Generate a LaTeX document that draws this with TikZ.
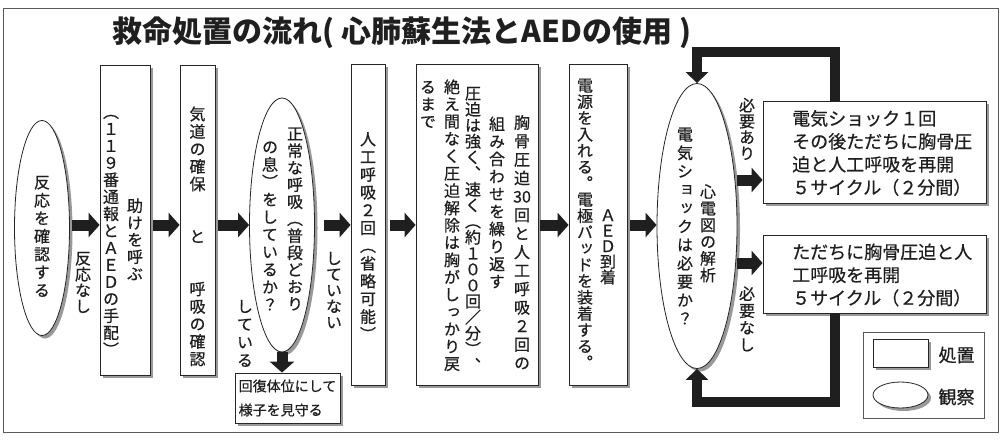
\documentclass[tikz,border=0pt]{standalone}
\usepackage{fontspec}
\setmainfont{Noto Sans CJK JP}[FakeBold=0.6]
\newfontfamily\tatefont[RawFeature=+vert, FakeBold=0.6]{Noto Sans CJK JP}
\newfontfamily\titlefont{Noto Sans CJK JP}
\usepackage{tikz}
\usetikzlibrary{arrows.meta}
\usetikzlibrary{shapes.geometric}
\usetikzlibrary{shadows}

% 縦書き（1文字ずつ積む）
\makeatletter
\newcommand\tate[2][17.5pt]{%
  \vbox{\offinterlineskip\tatefont
    \@tfor\tate@c:=#2\do{%
      \vbox to #1{\vss\hbox to 1em{\hss\vrule height .88em depth .12em width 0pt\tate@c\hss}\vss}}}}
\makeatother

\tikzset{%
  myarrow/.style={line width=11pt, draw=black!88, -{Triangle[width=24pt,length=11pt]}},
  myloop/.style={line width=10pt, draw=black!88, -{Triangle[width=22pt,length=11pt]}},
  myshadow/.style={drop shadow={shadow xshift=3pt, shadow yshift=-3pt, fill=black!40, opacity=1}},
  mybox/.style={rectangle, draw=black!85, fill=white, line width=0.8pt, inner sep=0pt, myshadow},
  myobs/.style={ellipse, draw=black!85, fill=white, line width=0.8pt, inner sep=0pt, myshadow},
  mytate/.style={inner sep=0pt, anchor=north, font=\fontsize{16}{16}\selectfont, text=black!88},
  mytext/.style={inner sep=0pt, align=left, font=\fontsize{18}{23}\selectfont, text=black!88}
}

\begin{document}
\begin{tikzpicture}[x=1pt, y=-1pt]
\useasboundingbox (0,0) rectangle (1001,439);
\fill [white] (0,0) rectangle (1001,439);
\draw [black!65, line width=1pt] (3,8) rectangle (998,432);

\node (title) [text=black!88, font=\titlefont\bfseries\fontsize{30}{30}\selectfont] at (402,33)
  {救命処置の流れ( 心肺蘇生法とAEDの使用 )};

\coordinate (row) at (0,225);

% 観察と処置
\node (check)  [myobs, minimum width=55pt, minimum height=215pt] at (42,228) {};
\node (call)   [mybox, minimum width=50pt, minimum height=310pt] at (125,220) {};
\node (airway) [mybox, minimum width=35pt, minimum height=310pt] at (197.5,220) {};
\node (breath) [myobs, minimum width=65pt, minimum height=254pt] at (282,225) {};
\node (recover)[mybox, minimum width=105pt, minimum height=50pt, align=left,
                font=\fontsize{14}{24}\selectfont, text=black!88] at (287.5,398)
  {回復体位にして\\様子を見守る};
\node (rescue) [mybox, minimum width=34pt, minimum height=321pt] at (368,224.5) {};
\node (cpr)    [mybox, minimum width=122pt, minimum height=321pt] at (477,224.5) {};
\node (aed)    [mybox, minimum width=58pt, minimum height=321pt] at (598,224.5) {};
\node (ecg)    [myobs, minimum width=80pt, minimum height=285pt] at (697,226) {};
\node (shock)  [mybox, minimum width=223pt, minimum height=102pt] at (874.5,152) {};
\node (noshock)[mybox, minimum width=223pt, minimum height=78pt] at (874.5,274) {};

% 縦書きの文字
\node (tcheck) [mytate] at (42,173) {\tate[18pt]{反応を確認する}};
\node (tcallA) [mytate] at (135,197) {\tate[17pt]{助けを呼ぶ}};
\node (tcallB) [mytate] at (111,103) {\tate[17pt]{（１１９番通報とＡＥＤの手配）}};
\node (tair)   [mytate] at (197.5,105) {\tate{気道の確保　　と　　呼吸の確認}};
\node (tbreA)  [mytate] at (295,125) {\tate[17pt]{正常な呼吸（普段どおり}};
\node (tbreB)  [mytate] at (270,138) {\tate{の息）をしているか？}};
\node (tresc)  [mytate] at (368,130) {\tate[17.75pt]{人工呼吸２回（省略可能）}};
\node (tcprA)  [mytate] at (522,113) {\tate[18.5pt]{胸骨圧迫{30}回と人工呼吸２回の}};
\node (tcprB)  [mytate] at (497,115) {\tate{組み合わせを繰り返す}};
\node (tcprC)  [mytate] at (473,85) {\tate[16pt]{圧迫は強く、速く（約１００回／分）、}};
\node (tcprD)  [mytate] at (452,78) {\tate[17.3pt]{絶え間なく圧迫解除は胸がしっかり戻}};
\node (tcprE)  [mytate] at (428,78) {\tate[17.3pt]{るまで}};
\node (taedA)  [mytate] at (608,207) {\tate[15.5pt]{ＡＥＤ到着}};
\node (taedB)  [mytate] at (585,77) {\tate[16.3pt]{電源を入れる。電極パッドを装着する。}};
\node (tecgA)  [mytate] at (708,183) {\tate[16.7pt]{心電図の解析}};
\node (tecgB)  [mytate] at (685,125) {\tate[18.4pt]{電気ショックは必要か？}};

\node (tshock) [mytext, anchor=west] at (792,153)
  {電気ショック１回\\その後ただちに胸骨圧\\迫と人工呼吸を再開\\５サイクル（２分間）};
\node (tnoshock) [mytext, anchor=west] at (792,275)
  {ただちに胸骨圧迫と人\\工呼吸を再開\\５サイクル（２分間）};

% 矢印
\foreach \a/\b/\s in {check/call/2, call/airway/3, airway/breath/3, breath/rescue/9,
                      rescue/cpr/5, cpr/aed/2, aed/ecg/3} {
  \draw [myarrow, shorten <=\s pt] (\a.east |- row) -- (\b.west |- row);
}
\draw [myarrow] (breath.south) -- (breath.south |- recover.north);

\coordinate (yes) at (0,180);
\coordinate (no)  at (0,263);
\draw [myarrow] (ecg.east |- yes) -- (shock.west |- yes);
\draw [myarrow] (ecg.east |- no) -- (noshock.west |- no);

\node (lnone)  [mytate] at (83,250) {\tate[16pt]{反応なし}};
\node (lyes)   [mytate] at (245,297) {\tate[18pt]{している}};
\node (lnot)   [mytate] at (334,250) {\tate[16pt]{していない}};
\node (lneed)  [mytate] at (747,97) {\tate[16pt]{必要あり}};
\node (lnoneed)[mytate] at (747,285) {\tate[17pt]{必要なし}};

% ループ
\coordinate (loopT) at (835,52);
\coordinate (loopB) at (835,402);
\draw [myloop] (shock.north -| loopT) -- (loopT) -| (ecg.north);
\draw [myloop] (noshock.south -| loopB) -- (loopB) -| (ecg.south);

% 凡例
\node (legend) [rectangle, draw=black!65, line width=0.8pt, minimum width=121pt, minimum height=86pt]
  at (923.5,375) {};
\node (legbox) [mybox, minimum width=55pt, minimum height=28pt] at (900.5,353) {};
\node (legell) [myobs, minimum width=55pt, minimum height=26pt] at (900.5,395) {};
\node (ltreat) [text=black!88, font=\fontsize{18}{18}\selectfont, anchor=west] at (935,355) {処置};
\node (lobs)   [text=black!88, font=\fontsize{18}{18}\selectfont, anchor=west] at (935,397) {観察};
\end{tikzpicture}
\end{document}
